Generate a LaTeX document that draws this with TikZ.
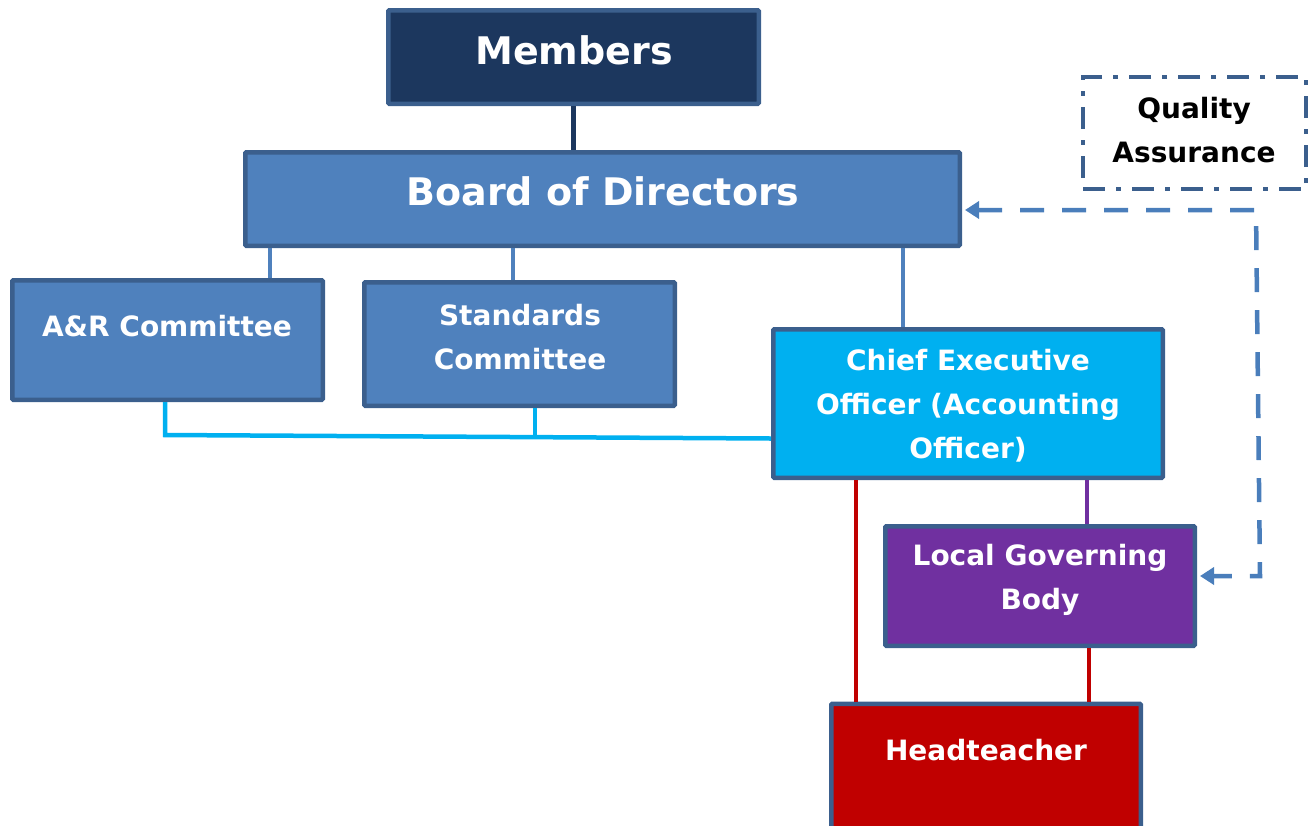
\documentclass[tikz,border=0pt]{standalone}
\usepackage{fontspec}
\setmainfont{DejaVu Sans}
\usetikzlibrary{arrows.meta,calc}
\definecolor{navy}{HTML}{1C375E}
\definecolor{edge}{HTML}{3B5F8D}
\definecolor{steel}{HTML}{4F81BD}
\definecolor{cyanbox}{HTML}{00B0F0}
\definecolor{purplebox}{HTML}{7030A0}
\definecolor{redbox}{HTML}{C00000}
\definecolor{dashblue}{HTML}{4A7EBB}
\begin{document}
\begin{tikzpicture}[x=1pt,y=-1pt,
  box/.style={draw=edge, line width=4.5pt, rectangle, inner sep=0pt, rounded corners=1pt},
  txt/.style={text=white, font=\bfseries\fontsize{28}{44}\selectfont, align=center, inner sep=0pt},
  bigtxt/.style={text=white, font=\bfseries\fontsize{38}{46}\selectfont, align=center, inner sep=0pt},
  link/.style={line width=4.5pt},
  qalink/.style={draw=dashblue, line width=4.5pt, dash pattern=on 24pt off 18pt, arrows={Triangle[length=14pt,width=17pt]-Triangle[length=14pt,width=17pt]}}
]
\useasboundingbox (0,0) rectangle (1316,825);
% boxes
\node[box, fill=navy, minimum width=370.5pt, minimum height=93.5pt] (members) at (573.5,57) {};
\node[box, fill=steel, minimum width=714.5pt, minimum height=93.5pt] (board) at (602.5,199) {};
\node[box, fill=steel, minimum width=310.5pt, minimum height=119.5pt] (ar) at (167.5,340) {};
\node[box, fill=steel, minimum width=310.5pt, minimum height=123.5pt] (std) at (519.5,344) {};
\node[box, fill=cyanbox, minimum width=389.5pt, minimum height=148.5pt] (ceo) at (968,403.5) {};
\node[box, fill=purplebox, minimum width=309.5pt, minimum height=119.5pt] (lgb) at (1040,586) {};
\node[box, fill=redbox, minimum width=309.5pt, minimum height=134.5pt] (head) at (986,771) {};
\node[draw=edge, line width=4pt, dash pattern=on 22pt off 11pt on 5pt off 11pt, rectangle, minimum width=223pt, minimum height=112pt, inner sep=0pt] (qa) at (1194.5,133) {};
% texts
\node[bigtxt] (tmembers) at (574,50) {Members};
\node[bigtxt] (tboard) at (603,191) {Board of Directors};
\node[txt] (tar) at (167,326) {A\&R Committee};
\node[txt] (tstd) at (520,337) {Standards\\Committee};
\node[txt] (tceo) at (968,406) {Chief Executive\\Officer (Accounting\\Officer)};
\node[txt] (tlgb) at (1040,580) {Local Governing\\Body};
\node[txt] (thead) at (986,750) {Headteacher};
\node[txt, text=black] (tqa) at (1194,130) {Quality\\Assurance};
% connectors
\draw[link, draw=navy] (members.south) -- (members.south |- board.north);
\draw[link, draw=steel] (270,0 |- board.south) -- (270,0 |- ar.north);
\draw[link, draw=steel] (513,0 |- board.south) -- (513,0 |- std.north);
\draw[link, draw=steel] (903,0 |- board.south) -- (903,0 |- ceo.north);
\coordinate (c1) at (165,435);
\coordinate (c2) at (535,436);
\draw[link, draw=cyanbox] (165,0 |- ar.south) -- (c1) -- ($(ceo.west)+(0,35)$);
\draw[link, draw=cyanbox] (535,0 |- std.south) -- (c2);
\draw[link, draw=redbox] (856,0 |- ceo.south) -- (856,0 |- head.north);
\draw[link, draw=redbox] (1089,0 |- lgb.south) -- (1089,0 |- head.north);
\draw[link, draw=purplebox] (1087,0 |- ceo.south) -- (1087,0 |- lgb.north);
\coordinate (qc) at (1256,210);
\coordinate (qd) at (1260,576);
\draw[qalink] ($(qc -| board.east)+(3,0)$) -- (qc) -- (qd) -- ($(lgb.east)+(3,-10)$);
\end{tikzpicture}
\end{document}
